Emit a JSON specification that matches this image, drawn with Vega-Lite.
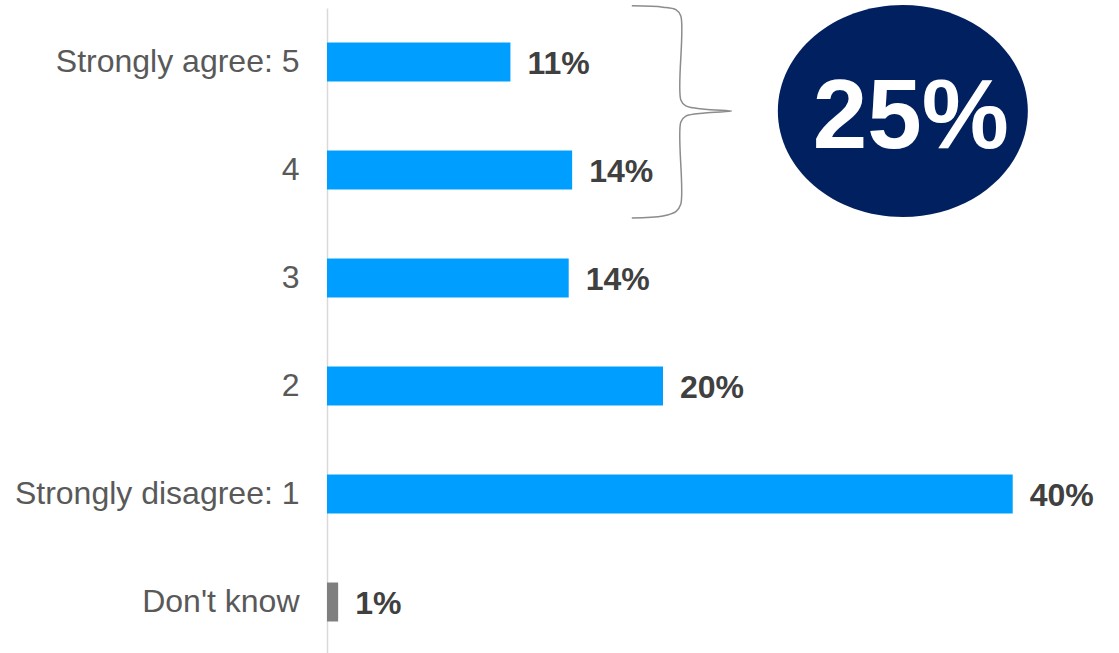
{
  "$schema": "https://vega.github.io/schema/vega-lite/v6.json",
  "autosize": {"type": "none"},
  "padding": {"left": 327, "top": 8, "right": 0, "bottom": 0},
  "width": 792,
  "height": 648,
  "config": {
    "view": {"stroke": null},
    "font": "Liberation Sans"
  },
  "datasets": {
    "responses": [
      {"response": "Strongly agree: 5", "share": 0.107, "kind": "rating"},
      {"response": "4", "share": 0.143, "kind": "rating"},
      {"response": "3", "share": 0.141, "kind": "rating"},
      {"response": "2", "share": 0.196, "kind": "rating"},
      {"response": "Strongly disagree: 1", "share": 0.40, "kind": "rating"},
      {"response": "Don't know", "share": 0.0065, "kind": "dontknow"}
    ],
    "brace": [
      {"i": 0, "bx": 0.1778, "by": -0.02},
      {"i": 1, "bx": 0.196, "by": -0.008},
      {"i": 2, "bx": 0.2035, "by": 0.015},
      {"i": 3, "bx": 0.2064, "by": 0.074},
      {"i": 4, "bx": 0.2064, "by": 0.852},
      {"i": 5, "bx": 0.2093, "by": 0.907},
      {"i": 6, "bx": 0.2204, "by": 0.937},
      {"i": 7, "bx": 0.236, "by": 0.954},
      {"i": 8, "bx": 0.2204, "by": 0.972},
      {"i": 9, "bx": 0.2093, "by": 1.001},
      {"i": 10, "bx": 0.2064, "by": 1.056},
      {"i": 11, "bx": 0.2064, "by": 1.815},
      {"i": 12, "bx": 0.2035, "by": 1.885},
      {"i": 13, "bx": 0.196, "by": 1.925},
      {"i": 14, "bx": 0.1778, "by": 1.944}
    ],
    "badge": [
      {"bx": 0.3359, "by": 0.954, "tx": 0.3406, "ty": 1.296, "label": "25%"}
    ]
  },
  "layer": [
    {
      "data": {"name": "responses"},
      "encoding": {
        "y": {
          "field": "response",
          "type": "nominal",
          "sort": null,
          "scale": {"paddingInner": 0.639, "paddingOuter": 0.3195},
          "axis": {
            "title": null,
            "ticks": false,
            "labelFontSize": 32,
            "labelColor": "#595959",
            "labelPadding": 28,
            "labelLimit": 0,
            "labelFont": "Liberation Sans",
            "domainColor": "#d9d9d9",
            "domainWidth": 1.5,
            "grid": false
          }
        },
        "x": {
          "field": "share",
          "type": "quantitative",
          "scale": {"domain": [0, 0.462], "nice": false, "zero": true},
          "axis": null
        }
      },
      "layer": [
        {
          "mark": {"type": "bar"},
          "encoding": {
            "color": {
              "field": "kind",
              "type": "nominal",
              "scale": {"domain": ["rating", "dontknow"], "range": ["#009FFF", "#7F7F7F"]},
              "legend": null
            }
          }
        },
        {
          "mark": {
            "type": "text",
            "align": "left",
            "baseline": "middle",
            "dx": 17,
            "dy": 2,
            "fontSize": 32,
            "fontWeight": "bold",
            "color": "#404040",
            "font": "Liberation Sans"
          },
          "encoding": {
            "text": {"field": "share", "type": "quantitative", "format": ".0%"}
          }
        }
      ]
    },
    {
      "layer": [
        {
          "data": {"name": "brace"},
          "mark": {"type": "line", "color": "#8c8c8c", "strokeWidth": 1.5, "interpolate": "catmull-rom"},
          "encoding": {
            "x": {"field": "bx", "type": "quantitative", "axis": null},
            "y": {"field": "by", "type": "quantitative", "axis": null, "scale": {"domain": [0, 6], "reverse": true, "nice": false, "zero": false}},
            "order": {"field": "i", "type": "quantitative"}
          }
        },
        {
          "data": {"name": "badge"},
          "mark": {
            "type": "point",
            "filled": true,
            "opacity": 1,
            "color": "#002060",
            "size": 62500,
            "shape": "M -1 0 A 1 0.848 0 1 1 1 0 A 1 0.848 0 1 1 -1 0 Z"
          },
          "encoding": {
            "x": {"field": "bx", "type": "quantitative", "axis": null},
            "y": {"field": "by", "type": "quantitative", "axis": null}
          }
        },
        {
          "data": {"name": "badge"},
          "mark": {
            "type": "text",
            "align": "center",
            "baseline": "alphabetic",
            "fontSize": 98,
            "fontWeight": "bold",
            "color": "#ffffff",
            "font": "Liberation Sans"
          },
          "encoding": {
            "x": {"field": "tx", "type": "quantitative", "axis": null},
            "y": {"field": "ty", "type": "quantitative", "axis": null},
            "text": {"field": "label", "type": "nominal"}
          }
        }
      ]
    }
  ],
  "resolve": {"scale": {"y": "independent"}, "axis": {"y": "independent"}}
}
